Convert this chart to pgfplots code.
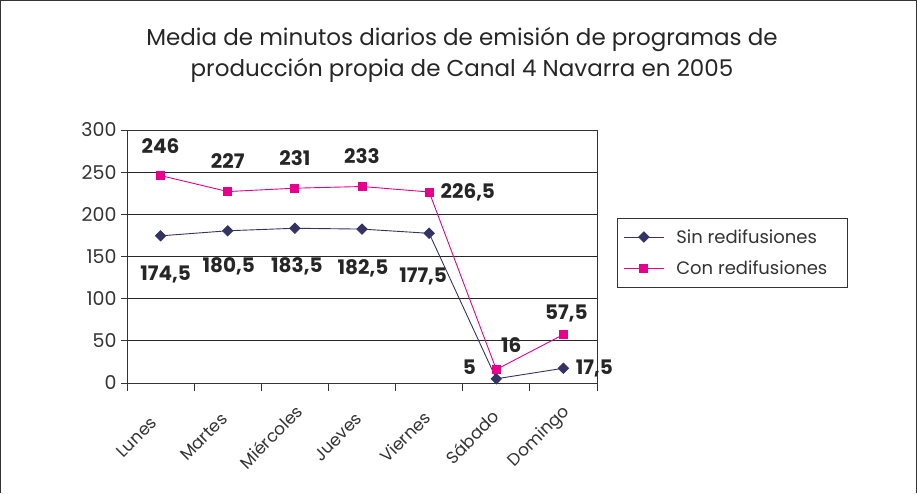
\documentclass[border=0pt]{standalone}
\usepackage{fontspec}
\setmainfont{Poppins}
\usepackage{pgfplots}
\pgfplotsset{compat=1.18}
\definecolor{sinred}{RGB}{51,51,102}
\definecolor{conred}{RGB}{232,0,140}

\begin{document}
\begin{tikzpicture}[x=1pt,y=1pt]
\useasboundingbox (0,0) rectangle (917,493);
% outer frame (bottom edge cut off)
\draw[line width=1.2pt,black!80] (0.6,0) -- (0.6,492.4) -- (916.4,492.4) -- (916.4,0);
% title
\node[font=\fontsize{23}{31}\selectfont, align=center, text=black!85] at (462,438)
  {Media de minutos diarios de emisión de programas de\\producción propia de Canal 4 Navarra en 2005};
\begin{axis}[
    at={(127pt,110pt)}, anchor=south west,
    scale only axis, width=470pt, height=253pt,
    xmin=-0.5, xmax=6.5, ymin=0, ymax=300,
    xtick={0,...,6},
    xticklabels={Lunes,Martes,Miércoles,Jueves,Viernes,Sábado,Domingo},
    minor xtick={-0.5,0.5,...,6.5},
    major x tick style={draw=none},
    minor x tick style={black!80, line width=0.8pt},
    ytick={0,50,...,300},
    y tick style={black!80, line width=0.8pt},
    tick pos=left, tick align=outside,
    major tick length=6pt, minor tick length=8pt,
    ymajorgrids, grid style={black!85, line width=0.8pt},
    axis line style={black!80, line width=1pt},
    /pgf/number format/assume math mode=true,
    tick label style={font=\fontsize{19}{22}\selectfont, text=black!80},
    xticklabel style={xshift=-24pt, yshift=-48pt, rotate=45, anchor=center, font=\fontsize{17}{20}\selectfont},
    yticklabel style={xshift=-1pt},
    legend style={at={(1.0426,0.652)}, anchor=north west,
        draw=black!80, line width=0.8pt,
        font=\fontsize{18}{22}\selectfont, text=black!80,
        row sep=12pt, inner xsep=6pt, inner ysep=9pt,
        /tikz/every odd column/.append style={column sep=10pt}},
    legend cell align=left,
    legend image code/.code={\draw[mark repeat=2,mark phase=2] plot coordinates {(0pt,0pt)(20pt,0pt)(40pt,0pt)};},
    clip=false,
]
\addplot[sinred, line width=0.9pt, mark=square*, mark size=3.6pt, mark options={fill=sinred, rotate=45}] coordinates {
    (0,174.5)(1,180.5)(2,183.5)(3,182.5)(4,177.5)(5,5)(6,17.5)
};
\addlegendentry{Sin redifusiones}
\addplot[conred, line width=0.9pt, mark=square*, mark size=4pt, mark options={fill=conred}] coordinates {
    (0,246)(1,227)(2,231)(3,233)(4,226.5)(5,16)(6,57.5)
};
\addlegendentry{Con redifusiones\hspace*{12pt}}

\begin{scope}[every node/.style={font=\bfseries\fontsize{20}{22}\selectfont, text=black!85}]
% Con redifusiones
\node[yshift=29pt] at (axis cs:0,246) {246};
\node[yshift=31pt] at (axis cs:1,227) {227};
\node[yshift=30pt] at (axis cs:2,231) {231};
\node[yshift=30pt] at (axis cs:3,233) {233};
\node[anchor=west, xshift=8pt] at (axis cs:4,226.5) {226,5};
\node[xshift=15pt, yshift=24pt] at (axis cs:5,16) {16};
\node[xshift=3pt, yshift=21pt] at (axis cs:6,57.5) {57,5};
% Sin redifusiones
\node[xshift=5pt, yshift=-39pt] at (axis cs:0,174.5) {174,5};
\node[xshift=1pt, yshift=-36pt] at (axis cs:1,180.5) {180,5};
\node[xshift=2pt, yshift=-38pt] at (axis cs:2,183.5) {183,5};
\node[xshift=1pt, yshift=-39pt] at (axis cs:3,182.5) {182,5};
\node[xshift=-6pt, yshift=-43pt] at (axis cs:4,177.5) {177,5};
\node[xshift=-27pt, yshift=12pt] at (axis cs:5,5) {5};
\node[anchor=west, xshift=9pt] at (axis cs:6,17.5) {17,5};
\end{scope}
\end{axis}
\end{tikzpicture}
\end{document}
